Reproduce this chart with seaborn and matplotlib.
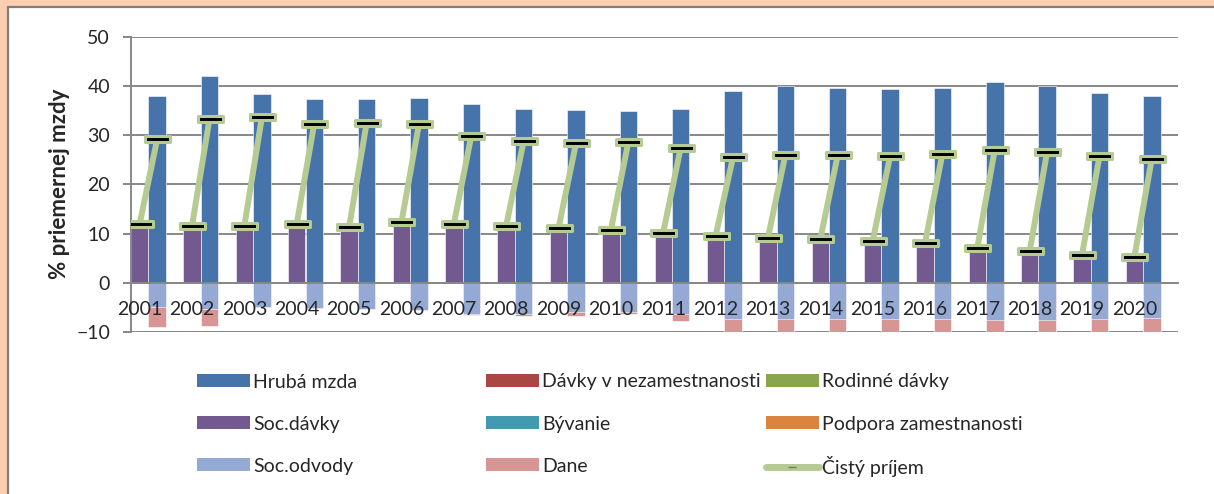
import numpy as np
import pandas as pd
import seaborn as sns
import matplotlib.pyplot as plt
from matplotlib.patches import Patch, Rectangle
from matplotlib.lines import Line2D
from matplotlib.path import Path


years = list(range(2001, 2021))
hruba_mzda = [37.9, 41.9, 38.4, 37.3, 37.4, 37.5, 36.2, 35.2, 35.0, 34.9,
              35.2, 39.0, 40.0, 39.5, 39.4, 39.5, 40.7, 39.9, 38.6, 38.0]
soc_davky = [12.0, 11.6, 11.6, 12.0, 11.3, 12.3, 11.9, 11.6, 11.1, 10.7,
             10.2, 9.5, 9.1, 8.8, 8.4, 8.0, 7.1, 6.4, 5.7, 5.2]
soc_odvody = [4.9, 5.4, 4.9, 5.2, 5.3, 5.5, 6.4, 6.3, 6.0, 6.0,
              6.3, 7.4, 7.4, 7.4, 7.4, 7.4, 7.6, 7.6, 7.4, 7.2]
dane = [4.0, 3.4, 0.0, 0.0, 0.0, 0.0, 0.2, 0.4, 0.7, 0.3,
        1.5, 6.1, 6.6, 6.2, 6.3, 5.9, 6.1, 5.7, 5.5, 5.6]
cisty_prijem = [29.2, 33.3, 33.6, 32.3, 32.4, 32.2, 29.8, 28.7, 28.3, 28.6,
                27.4, 25.5, 26.0, 25.9, 25.7, 26.2, 27.0, 26.6, 25.7, 25.2]

legend_rows = [
    ["Hrubá mzda", "Dávky v nezamestnanosti", "Rodinné dávky"],
    ["Soc.dávky", "Bývanie", "Podpora zamestnanosti"],
    ["Soc.odvody", "Dane", "Čistý príjem"],
]

COLORS = {
    "Hrubá mzda": "#4673A9",
    "Soc.dávky": "#72598F",
    "Soc.odvody": "#94AAD4",
    "Dávky v nezamestnanosti": "#AA4643",
    "Bývanie": "#4299B0",
    "Dane": "#D79594",
    "Rodinné dávky": "#89A54E",
    "Podpora zamestnanosti": "#DB843D",
    "Čistý príjem": "#B5CB92",
}
GRID = "#878787"
PEACH = "#FBCFB0"
W, H = 1214, 494


def bars(ax, xpos, values, color):
    df = pd.DataFrame({"x": xpos, "val": values})
    sns.barplot(data=df, x="x", y="val", native_scale=True, width=1/3,
                color=color, saturation=1, errorbar=None, ax=ax,
                edgecolor="white", linewidth=0.4, legend=False)


def main():
    sns.set_style("white")
    plt.rcParams["font.family"] = ["Lato", "DejaVu Sans"]

    fig = plt.figure(figsize=(W / 100, H / 100), dpi=100, facecolor=PEACH)
    fig.patches.append(Rectangle((8 / W, -0.02), 1.0, 487 / H + 0.02,
                                 transform=fig.transFigure, facecolor="white",
                                 edgecolor="#7f7f7f", lw=1.6, zorder=-5))
    ax = fig.add_axes([131 / W, 162 / H, 1047 / W, 295.5 / H])
    ax.set_facecolor("none")

    idx = np.arange(len(years))
    x_left = 3 * idx + 0.5
    x_right = 3 * idx + 1.5

    # gridlines behind the bars, axis (with year labels) above them
    for yv in range(-10, 51, 10):
        ax.axhline(yv, color=GRID, lw=1.4, zorder=0.5)

    # right column: gross wage up, contributions and taxes down (overlay stacking)
    bars(ax, x_right, hruba_mzda, COLORS["Hrubá mzda"])
    bars(ax, x_left, soc_davky, COLORS["Soc.dávky"])
    bars(ax, x_right, -(np.array(soc_odvody) + np.array(dane)), COLORS["Dane"])
    bars(ax, x_right, -np.array(soc_odvody), COLORS["Soc.odvody"])

    # net income line, one segment per year
    line_df = pd.DataFrame({
        "x": np.column_stack([x_left, x_right]).ravel(),
        "val": np.column_stack([soc_davky, cisty_prijem]).ravel(),
        "year": np.repeat(years, 2),
    })
    dash = Path([(-1, -0.27), (1, -0.27), (1, 0.27), (-1, 0.27), (-1, -0.27)],
                [Path.MOVETO, Path.LINETO, Path.LINETO, Path.LINETO, Path.CLOSEPOLY])
    sns.lineplot(data=line_df, x="x", y="val", units="year", estimator=None,
                 sort=False, color=COLORS["Čistý príjem"], lw=4.3, marker=dash,
                 markersize=18, markerfacecolor="black",
                 markeredgecolor=COLORS["Čistý príjem"], markeredgewidth=2.2,
                 legend=False, ax=ax, zorder=5)

    ax.set_xlim(0, 60)
    ax.set_ylim(-10, 50)
    ax.set_yticks(range(-10, 51, 10))
    ax.grid(False)
    ax.set_axisbelow(False)
    for side in ["top", "right"]:
        ax.spines[side].set_visible(False)
    ax.spines["left"].set_color(GRID)
    ax.spines["left"].set_linewidth(1.4)
    ax.spines["bottom"].set_position(("data", 0))
    ax.spines["bottom"].set_color(GRID)
    ax.spines["bottom"].set_linewidth(1.4)

    ax.set_xticks(np.arange(0, 61), labels=[])
    ax.set_xticks(x_left, labels=[str(y) for y in years], minor=True)
    ax.tick_params(axis="x", which="major", direction="out", length=5,
                   width=1.4, color=GRID)
    ax.tick_params(axis="x", which="minor", length=0, pad=13, labelsize=14)
    ax.tick_params(axis="y", direction="out", length=6, width=1.4, color=GRID,
                   pad=9, labelsize=14, left=True)
    ax.set_xlabel("")
    ax.set_ylabel("")
    fig.text(60 / W, 1 - 184 / H, "% priemernej mzdy", rotation=90,
             ha="center", va="center", fontsize=16, fontweight="bold")

    col_x = [197, 486, 766]
    row_y = [382, 424, 466]
    for ry, names in zip(row_y, legend_rows):
        for cx, name in zip(col_x, names):
            if name == "Čistý príjem":
                handle = Line2D([], [], color=COLORS[name], lw=5,
                                marker="_", markersize=6,
                                markeredgecolor="#6b7d55")
            else:
                handle = Patch(facecolor=COLORS[name], edgecolor="none")
            fig.legend([handle], [name], loc="center left",
                       bbox_to_anchor=(cx / W, 1 - ry / H), frameon=False,
                       fontsize=14, handlelength=2.7, handleheight=0.62,
                       handletextpad=0.2, borderpad=0, borderaxespad=0)

    fig.savefig("out.png", dpi=100, facecolor=PEACH)


if __name__ == "__main__":
    main()
